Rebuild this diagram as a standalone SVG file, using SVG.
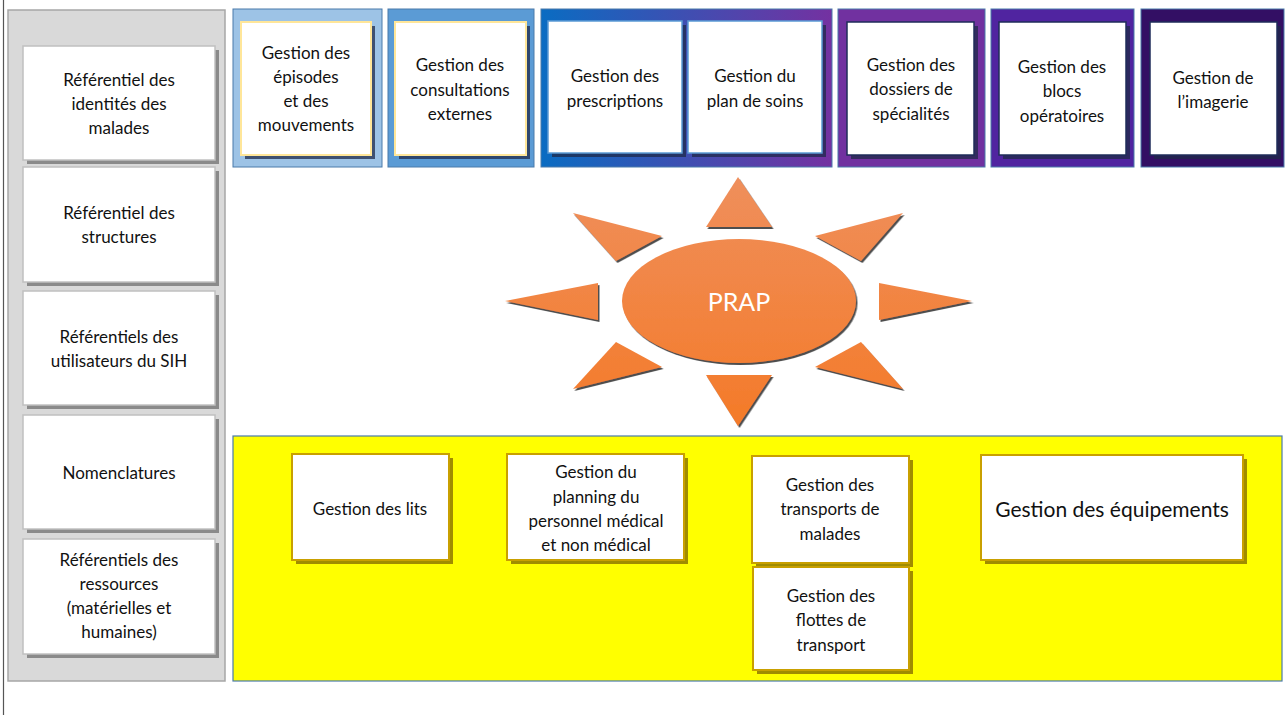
<svg xmlns="http://www.w3.org/2000/svg" width="1285" height="715" viewBox="0 0 1285 715">
  <defs>
    <style>
      text { font-family: Lato, "Open Sans", "Liberation Sans", sans-serif; font-size: 17px; fill: #111; text-anchor: middle; }
      .panel { stroke: #4a7aaa; stroke-width: 1; }
      .ref { fill: #fff; stroke: #c0c0c0; stroke-width: 1.5; }
      .ref-sh { fill: #8a8a8a; }
      .top-sh { fill: #1f2a4a; opacity: 0.75; }
      .top-cream { fill: #fff; stroke: #ffe699; stroke-width: 2; }
      .top-blue { fill: #fff; stroke: #5b9bd5; stroke-width: 1.5; }
      .top-navy { fill: #fff; stroke: #1f2d5a; stroke-width: 1.5; }
      .bot { fill: #fff; stroke: #c9a000; stroke-width: 2; }
      .bot-sh { fill: #a08c00; }
      .big { font-size: 21px; }
      .prap { fill: #fff; font-size: 25px; }
    </style>
    <linearGradient id="band" x1="0" y1="0" x2="1" y2="0">
      <stop offset="0" stop-color="#0a6cc2"/>
      <stop offset="1" stop-color="#7431a1"/>
    </linearGradient>
    <linearGradient id="sun" gradientUnits="userSpaceOnUse" x1="0" y1="177" x2="0" y2="426">
      <stop offset="0" stop-color="#ef8f5c"/>
      <stop offset="1" stop-color="#f47a28"/>
    </linearGradient>
    <filter id="shade" x="-10%" y="-10%" width="130%" height="130%">
      <feDropShadow dx="1.5" dy="2" stdDeviation="0.6" flood-color="#3a3a3a" flood-opacity="0.9"/>
    </filter>
  </defs>

  <!-- page edge -->
  <line x1="3.5" y1="0" x2="3.5" y2="715" stroke="#555" stroke-width="1.2"/>

  <!-- left column of reference registries -->
  <rect x="8" y="10" width="217" height="671" fill="#d9d9d9" stroke="#a6a6a6" stroke-width="1.5"/>

  <g id="ref-identites">
    <rect class="ref-sh" x="27" y="50" width="192" height="114"/>
    <rect class="ref" x="23" y="46" width="192" height="114"/>
    <text x="119" y="86">Référentiel des</text>
    <text x="119" y="110">identités des</text>
    <text x="119" y="134">malades</text>
  </g>
  <g id="ref-structures">
    <rect class="ref-sh" x="27" y="171" width="192" height="115"/>
    <rect class="ref" x="23" y="167" width="192" height="115"/>
    <text x="119" y="219">Référentiel des</text>
    <text x="119" y="243">structures</text>
  </g>
  <g id="ref-utilisateurs">
    <rect class="ref-sh" x="27" y="295" width="192" height="114"/>
    <rect class="ref" x="23" y="291" width="192" height="114"/>
    <text x="119" y="343">Référentiels des</text>
    <text x="119" y="367">utilisateurs du SIH</text>
  </g>
  <g id="ref-nomenclatures">
    <rect class="ref-sh" x="27" y="419" width="192" height="114"/>
    <rect class="ref" x="23" y="415" width="192" height="114"/>
    <text x="119" y="479">Nomenclatures</text>
  </g>
  <g id="ref-ressources">
    <rect class="ref-sh" x="27" y="543" width="192" height="115"/>
    <rect class="ref" x="23" y="539" width="192" height="115"/>
    <text x="119" y="566">Référentiels des</text>
    <text x="119" y="590">ressources</text>
    <text x="119" y="614">(matérielles et</text>
    <text x="119" y="638">humaines)</text>
  </g>

  <!-- top row of clinical modules -->
  <g id="mod-episodes">
    <rect class="panel" x="233" y="9" width="149" height="158" fill="#9dc3e6"/>
    <rect class="top-sh" x="245" y="26" width="130" height="133"/>
    <rect class="top-cream" x="241" y="22" width="130" height="133"/>
    <text x="306" y="59">Gestion des</text>
    <text x="306" y="83">épisodes</text>
    <text x="306" y="107">et des</text>
    <text x="306" y="131">mouvements</text>
  </g>
  <g id="mod-consultations">
    <rect class="panel" x="388" y="9" width="146" height="158" fill="#5b9bd5"/>
    <rect class="top-sh" x="399" y="26" width="131" height="133"/>
    <rect class="top-cream" x="395" y="22" width="131" height="133"/>
    <text x="460" y="71">Gestion des</text>
    <text x="460" y="96">consultations</text>
    <text x="460" y="120">externes</text>
  </g>
  <g id="mod-prescriptions-soins">
    <rect class="panel" x="541" y="9" width="291" height="158" fill="url(#band)"/>
    <rect class="top-sh" x="552" y="25" width="134" height="132"/>
    <rect class="top-blue" x="548" y="21" width="134" height="132"/>
    <text x="615" y="82">Gestion des</text>
    <text x="615" y="107">prescriptions</text>
    <rect class="top-sh" x="692" y="25" width="134" height="132"/>
    <rect class="top-blue" x="688" y="21" width="134" height="132"/>
    <text x="755" y="82">Gestion du</text>
    <text x="755" y="107">plan de soins</text>
  </g>
  <g id="mod-specialites">
    <rect class="panel" x="838" y="9" width="147" height="158" fill="#7131a0"/>
    <rect class="top-sh" x="851" y="26" width="127" height="133"/>
    <rect class="top-navy" x="847" y="22" width="127" height="133"/>
    <text x="911" y="71">Gestion des</text>
    <text x="911" y="95">dossiers de</text>
    <text x="911" y="120">spécialités</text>
  </g>
  <g id="mod-blocs">
    <rect class="panel" x="991" y="9" width="143" height="158" fill="#5024a0"/>
    <rect class="top-sh" x="1003" y="26" width="127" height="133"/>
    <rect class="top-navy" x="999" y="22" width="127" height="133"/>
    <text x="1062" y="73">Gestion des</text>
    <text x="1062" y="97">blocs</text>
    <text x="1062" y="122">opératoires</text>
  </g>
  <g id="mod-imagerie">
    <rect class="panel" x="1141" y="9" width="143" height="158" fill="#330f64"/>
    <rect class="top-sh" x="1154" y="26" width="127" height="133"/>
    <rect class="top-navy" x="1150" y="22" width="127" height="133"/>
    <text x="1213" y="84">Gestion de</text>
    <text x="1213" y="108">l’imagerie</text>
  </g>

  <!-- central PRAP sun -->
  <g id="prap" fill="url(#sun)" filter="url(#shade)">
    <polygon points="738,177 772,227 706,227"/>
    <polygon points="706,375 772,375 738,426"/>
    <polygon points="505,301 598,283 598,320"/>
    <polygon points="972,301 879,283 879,320"/>
    <polygon points="573,213 662,236 616,261"/>
    <polygon points="903,213 815,236 861,261"/>
    <polygon points="616,342 662,367 573,389"/>
    <polygon points="861,342 815,367 903,389"/>
    <ellipse cx="739" cy="301" rx="117" ry="62"/>
  </g>
  <text class="prap" x="739" y="311">PRAP</text>

  <!-- bottom band of logistics modules -->
  <rect x="233" y="436" width="1049" height="245" fill="#ffff00" stroke="#4a7aaa" stroke-width="1.2"/>

  <g id="mod-lits">
    <rect class="bot-sh" x="296" y="458" width="157" height="106"/>
    <rect class="bot" x="292" y="454" width="157" height="106"/>
    <text x="370" y="515">Gestion des lits</text>
  </g>
  <g id="mod-planning">
    <rect class="bot-sh" x="511" y="458" width="177" height="106"/>
    <rect class="bot" x="507" y="454" width="177" height="106"/>
    <text x="596" y="478">Gestion du</text>
    <text x="596" y="503">planning du</text>
    <text x="596" y="527">personnel médical</text>
    <text x="596" y="551">et non médical</text>
  </g>
  <g id="mod-transports">
    <rect class="bot-sh" x="756" y="460" width="157" height="107"/>
    <rect class="bot" x="752" y="456" width="157" height="107"/>
    <text x="830" y="491">Gestion des</text>
    <text x="830" y="515">transports de</text>
    <text x="830" y="540">malades</text>
  </g>
  <g id="mod-flottes">
    <rect class="bot-sh" x="757" y="571" width="156" height="103"/>
    <rect class="bot" x="753" y="567" width="156" height="103"/>
    <text x="831" y="602">Gestion des</text>
    <text x="831" y="626">flottes de</text>
    <text x="831" y="651">transport</text>
  </g>
  <g id="mod-equipements">
    <rect class="bot-sh" x="985" y="459" width="262" height="105"/>
    <rect class="bot" x="981" y="455" width="262" height="105"/>
    <text class="big" x="1112" y="517">Gestion des équipements</text>
  </g>
</svg>
